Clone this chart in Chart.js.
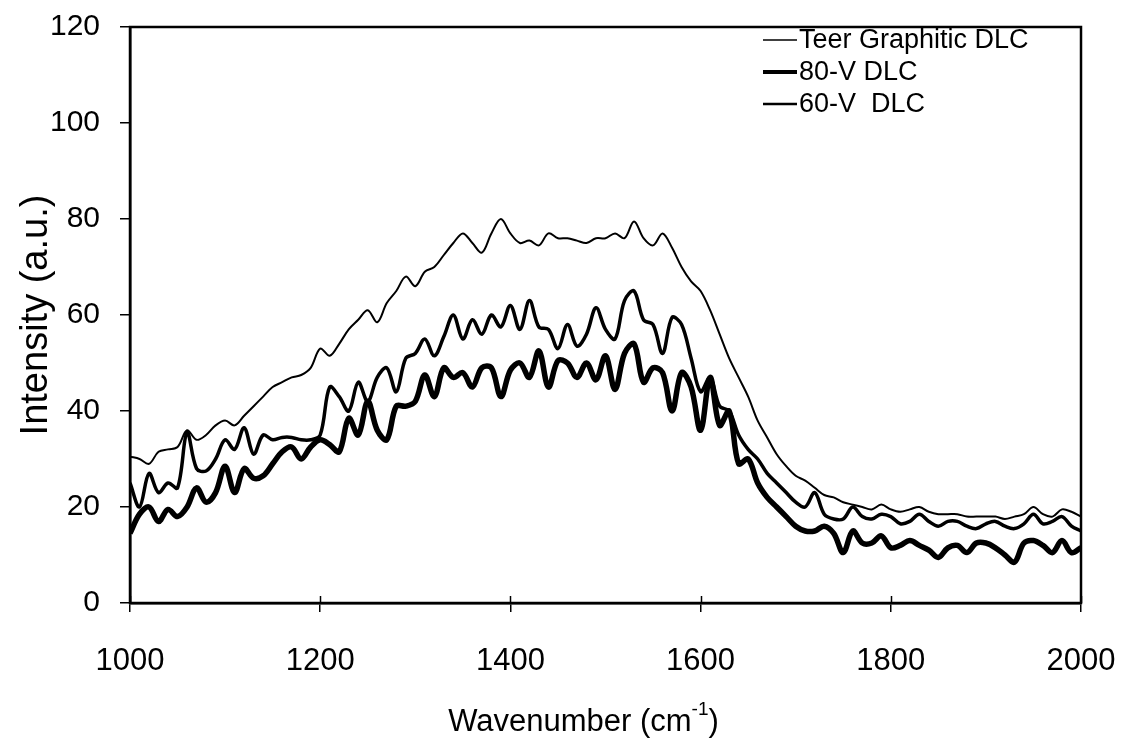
<!DOCTYPE html>
<html>
<head>
<meta charset="utf-8">
<script src="https://cdn.jsdelivr.net/npm/chart.js@4.4.1/dist/chart.umd.min.js"></script>
<style>
  html, body { margin: 0; padding: 0; background: #fff; }
  #wrap { width: 1136px; height: 746px; position: relative; }
</style>
</head>
<body>
<div id="wrap"><canvas id="raman"></canvas></div>
<script>
// Raman spectra, wavenumber in cm^-1, sampled every 10
const wavenumber = [
  1000, 1010, 1020, 1030, 1040, 1050, 1060, 1070, 1080, 1090,
  1100, 1110, 1120, 1130, 1140, 1150, 1160, 1170, 1180, 1190,
  1200, 1210, 1220, 1230, 1240, 1250, 1260, 1270, 1280, 1290,
  1300, 1310, 1320, 1330, 1340, 1350, 1360, 1370, 1380, 1390,
  1400, 1410, 1420, 1430, 1440, 1450, 1460, 1470, 1480, 1490,
  1500, 1510, 1520, 1530, 1540, 1550, 1560, 1570, 1580, 1590,
  1600, 1610, 1620, 1630, 1640, 1650, 1660, 1670, 1680, 1690,
  1700, 1710, 1720, 1730, 1740, 1750, 1760, 1770, 1780, 1790,
  1800, 1810, 1820, 1830, 1840, 1850, 1860, 1870, 1880, 1890,
  1900, 1910, 1920, 1930, 1940, 1950, 1960, 1970, 1980, 1990,
  2000
];

const teerGraphitic = [
  30.5, 30, 29, 31.5, 32, 32.5, 36, 34, 35, 37,
  38, 37, 39, 41, 43, 45, 46, 47, 47.5, 49,
  53, 51.5, 54, 57, 59, 61, 58.5, 62.5, 65, 68,
  66, 69, 70, 72.5, 75, 77, 75, 73, 77, 80,
  77, 75, 75.5, 74.5, 77, 76, 76, 75.5, 75, 76,
  76, 77, 76, 79.5, 76, 74.5, 77, 74, 70, 67,
  65, 61, 56, 51, 47, 43, 38, 34.5, 31, 28.5,
  26.5, 25.5, 24, 22.5, 22, 21, 20.5, 20, 19.5, 20.5,
  19.5, 19, 19.5, 20, 19, 18.5, 18.5, 18.5, 18, 18,
  18, 18, 17.5, 18, 18.5, 20, 18.5, 18, 19.5, 19,
  18
];

const dlc80V = [
  14.5, 18.5, 20, 17, 19.5, 18, 20, 24, 21, 23,
  28.5, 23, 28, 26, 26.5, 29, 31.5, 32.5, 30, 32.5,
  34, 33, 31.5, 38.5, 35, 42, 36, 34, 41, 41,
  42, 47.5, 43, 49, 47, 48, 45, 49, 49, 43,
  48.5, 50, 47, 52.5, 45, 50.5, 50, 47, 50, 46.5,
  51.5, 44.5, 52, 54, 46, 49, 48, 40, 48, 45,
  36, 47, 37, 40, 29, 30, 25, 22, 20, 18,
  16, 15, 15, 16, 14.5, 10.5, 15, 12.5, 12.5, 14,
  11.5, 12, 13, 12, 11, 9.5, 11.5, 12, 10.5, 12.5,
  12.5, 11.5, 10, 8.5, 12.5, 13, 12, 10.5, 13, 10.5,
  11.5
];

const dlc60V = [
  25, 20, 27, 23, 25, 24, 35.5, 28, 27.5, 30,
  34, 32, 36.5, 31, 35, 34, 34.5, 34.5, 34, 34,
  35, 45, 43, 40, 46, 42, 47, 49, 44, 51,
  52, 55, 51.5, 55.5, 60, 55, 59, 56, 60, 57.5,
  62, 57, 63, 57.5, 57, 53, 58, 53.5, 56, 61.5,
  57, 55, 63, 65, 59, 58, 52, 59.5, 58, 51,
  44, 47, 41, 40, 35, 32, 30, 27, 25, 23,
  21, 20, 23, 18.5, 17.5, 17.5, 20, 18, 17.5, 18.5,
  18, 16.5, 17, 18.5, 17, 16, 17, 17, 16, 15.5,
  16.5, 17, 16, 15.5, 16.5, 18.5, 16.5, 17, 18, 16,
  15
];

const seriesLabels = ['Teer Graphitic DLC', '80-V DLC', '60-V  DLC'];
const yTicks = [0, 20, 40, 60, 80, 100, 120];
const xTicks = [1000, 1200, 1400, 1600, 1800, 2000];

const FONT = '"Liberation Sans", Arial, sans-serif';

function points(ys) {
  return wavenumber.map((x, i) => ({ x, y: ys[i] }));
}

// frame, inner half of x ticks, custom legend and the x title with superscript
const decor = {
  id: 'decor',
  afterDraw(chart) {
    const { ctx, chartArea: a, scales } = chart;
    ctx.save();
    ctx.strokeStyle = '#000';
    ctx.lineWidth = 2.5;
    ctx.strokeRect(a.left, a.top, a.right - a.left, a.bottom - a.top);

    ctx.lineWidth = 1.5;
    xTicks.forEach(v => {
      const px = Math.round(scales.x.getPixelForValue(v)) + 0.5;
      ctx.beginPath();
      ctx.moveTo(px, a.bottom);
      ctx.lineTo(px, a.bottom - 7);
      ctx.stroke();
    });

    // legend
    ctx.fillStyle = '#000';
    ctx.font = '27px ' + FONT;
    ctx.textBaseline = 'middle';
    ctx.textAlign = 'left';
    chart.data.datasets.forEach((ds, i) => {
      const y = 40 + i * 32;
      ctx.lineWidth = ds.borderWidth * 0.75;
      ctx.beginPath();
      ctx.moveTo(763, y);
      ctx.lineTo(797, y);
      ctx.stroke();
      ctx.fillText(ds.label, 799, y + 1);
    });

    // x title
    ctx.font = '31px ' + FONT;
    ctx.textBaseline = 'alphabetic';
    const main = 'Wavenumber (cm';
    const sup = '-1';
    const close = ')';
    const wMain = ctx.measureText(main).width;
    ctx.font = '19px ' + FONT;
    const wSup = ctx.measureText(sup).width;
    ctx.font = '31px ' + FONT;
    const wClose = ctx.measureText(close).width;
    let x = (a.left + a.right) / 2 - 22 - (wMain + wSup + wClose) / 2;
    const base = 731;
    ctx.fillText(main, x, base);
    x += wMain;
    ctx.font = '19px ' + FONT;
    ctx.fillText(sup, x, base - 16);
    x += wSup;
    ctx.font = '31px ' + FONT;
    ctx.fillText(close, x, base);
    ctx.restore();
  }
};

new Chart(document.getElementById('raman').getContext('2d'), {
  type: 'line',
  data: {
    datasets: [
      {
        label: seriesLabels[0],
        data: points(teerGraphitic),
        borderColor: '#000',
        borderWidth: 2,
        pointRadius: 0,
        tension: 0.35,
      },
      {
        label: seriesLabels[1],
        data: points(dlc80V),
        borderColor: '#000',
        borderWidth: 5.5,
        pointRadius: 0,
        tension: 0.35,
      },
      {
        label: seriesLabels[2],
        data: points(dlc60V),
        borderColor: '#000',
        borderWidth: 3.5,
        pointRadius: 0,
        tension: 0.35,
      },
    ],
  },
  options: {
    responsive: true,
    maintainAspectRatio: false,
    animation: false,
    layout: { padding: { top: 27, right: 55, left: 14, bottom: 0 } },
    plugins: { legend: { display: false }, tooltip: { enabled: false } },
    scales: {
      x: {
        type: 'linear',
        min: 1000, max: 2000,
        afterBuildTicks: s => { s.ticks = xTicks.map(v => ({ value: v })); },
        afterFit: s => { s.height = 143; s.paddingLeft = 0; s.paddingRight = 0; },
        ticks: {
          color: '#000', font: { size: 31, family: FONT }, padding: 31, maxRotation: 0,
          callback: v => String(v),
        },
        grid: { drawOnChartArea: false, color: '#000', lineWidth: 1.5, tickLength: 9 },
        border: { color: '#000', width: 2.5 },
      },
      y: {
        min: 0, max: 120,
        afterBuildTicks: s => { s.ticks = yTicks.map(v => ({ value: v })); },
        afterFit: s => { s.width = 116; s.paddingTop = 0; s.paddingBottom = 0; },
        ticks: { color: '#000', font: { size: 30, family: FONT }, padding: 20 },
        grid: { drawOnChartArea: false, color: '#000', lineWidth: 1.5, tickLength: 10 },
        border: { color: '#000', width: 2.5 },
        title: {
          display: true,
          text: 'Intensity (a.u.)',
          color: '#000',
          font: { size: 38, family: FONT },
          padding: { top: 0, bottom: 2 },
        },
      },
    },
  },
  plugins: [decor],
});
</script>
</body>
</html>
